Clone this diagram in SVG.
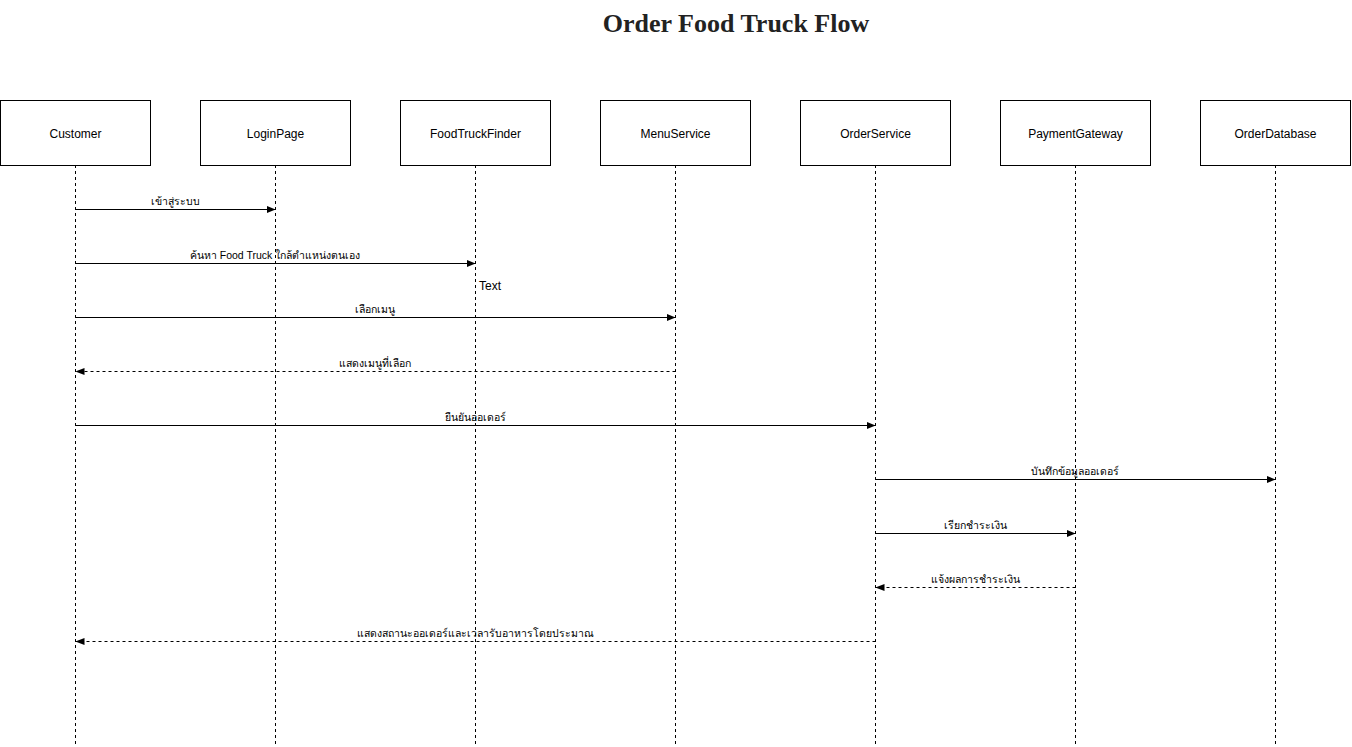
<svg xmlns="http://www.w3.org/2000/svg" width="1352" height="747" viewBox="0 0 1352 747">
<style>
.box{fill:#fff;stroke:#000;stroke-width:1}
.lbl{font-family:"Liberation Sans",Arial,sans-serif;font-size:12px;fill:#000;text-anchor:middle}
.life{stroke:#000;stroke-width:1;stroke-dasharray:3 3;fill:none}
.msg{stroke:#000;stroke-width:1;fill:none}
.ret{stroke:#000;stroke-width:1;stroke-dasharray:3 3;fill:none}
.mt{font-family:"Liberation Sans","Noto Sans",sans-serif;font-size:10.5px;fill:#000;text-anchor:middle}
.title{font-family:"Liberation Serif","Times New Roman",serif;font-size:26px;font-weight:bold;fill:#222;text-anchor:middle}
</style>
<defs>
<marker id="ah" viewBox="0 0 10 10" refX="10" refY="5" markerWidth="9" markerHeight="9" markerUnits="userSpaceOnUse" orient="auto">
<path d="M0,1 L10,5 L0,9 Z" fill="#000"/>
</marker>
</defs>
<rect width="1352" height="747" fill="#fff"/>
<text class="title" x="736" y="32">Order Food Truck Flow</text>
<g id="lifelines">
<line class="life" x1="75.5" y1="165" x2="75.5" y2="747"/>
<line class="life" x1="275.5" y1="165" x2="275.5" y2="747"/>
<line class="life" x1="475.5" y1="165" x2="475.5" y2="747"/>
<line class="life" x1="675.5" y1="165" x2="675.5" y2="747"/>
<line class="life" x1="875.5" y1="165" x2="875.5" y2="747"/>
<line class="life" x1="1075.5" y1="165" x2="1075.5" y2="747"/>
<line class="life" x1="1275.5" y1="165" x2="1275.5" y2="747"/>
</g>
<g id="Customer"><rect class="box" x="0.5" y="100.5" width="150" height="65"/><text class="lbl" x="75.5" y="137.5">Customer</text></g>
<g id="LoginPage"><rect class="box" x="200.5" y="100.5" width="150" height="65"/><text class="lbl" x="275.5" y="137.5">LoginPage</text></g>
<g id="FoodTruckFinder"><rect class="box" x="400.5" y="100.5" width="150" height="65"/><text class="lbl" x="475.5" y="137.5">FoodTruckFinder</text></g>
<g id="MenuService"><rect class="box" x="600.5" y="100.5" width="150" height="65"/><text class="lbl" x="675.5" y="137.5">MenuService</text></g>
<g id="OrderService"><rect class="box" x="800.5" y="100.5" width="150" height="65"/><text class="lbl" x="875.5" y="137.5">OrderService</text></g>
<g id="PaymentGateway"><rect class="box" x="1000.5" y="100.5" width="150" height="65"/><text class="lbl" x="1075.5" y="137.5">PaymentGateway</text></g>
<g id="OrderDatabase"><rect class="box" x="1200.5" y="100.5" width="150" height="65"/><text class="lbl" x="1275.5" y="137.5">OrderDatabase</text></g>
<g id="connectors">
<line class="msg" x1="75.5" y1="209.5" x2="275.5" y2="209.5" marker-end="url(#ah)"/>
<text class="mt" x="175" y="205">เข้าสู่ระบบ</text>
<line class="msg" x1="75.5" y1="263.5" x2="475.5" y2="263.5" marker-end="url(#ah)"/>
<text class="mt" x="275" y="259">ค้นหา Food Truck ใกล้ตำแหน่งตนเอง</text>
<line class="msg" x1="75.5" y1="317.5" x2="675.5" y2="317.5" marker-end="url(#ah)"/>
<text class="mt" x="375" y="313">เลือกเมนู</text>
<line class="ret" x1="675.5" y1="371.5" x2="75.5" y2="371.5" marker-end="url(#ah)"/>
<text class="mt" x="375" y="367">แสดงเมนูที่เลือก</text>
<line class="msg" x1="75.5" y1="425.5" x2="875.5" y2="425.5" marker-end="url(#ah)"/>
<text class="mt" x="475" y="421">ยืนยันออเดอร์</text>
<line class="msg" x1="875.5" y1="479.5" x2="1275.5" y2="479.5" marker-end="url(#ah)"/>
<text class="mt" x="1075" y="475">บันทึกข้อมูลออเดอร์</text>
<line class="msg" x1="875.5" y1="533.5" x2="1075.5" y2="533.5" marker-end="url(#ah)"/>
<text class="mt" x="975" y="529">เรียกชำระเงิน</text>
<line class="ret" x1="1075.5" y1="587.5" x2="875.5" y2="587.5" marker-end="url(#ah)"/>
<text class="mt" x="975" y="583">แจ้งผลการชำระเงิน</text>
<line class="ret" x1="875.5" y1="641.5" x2="75.5" y2="641.5" marker-end="url(#ah)"/>
<text class="mt" x="475" y="637">แสดงสถานะออเดอร์และเวลารับอาหารโดยประมาณ</text>
</g>
<text x="479" y="290" font-family="'Liberation Sans',Arial,sans-serif" font-size="12" fill="#000">Text</text>
</svg>
